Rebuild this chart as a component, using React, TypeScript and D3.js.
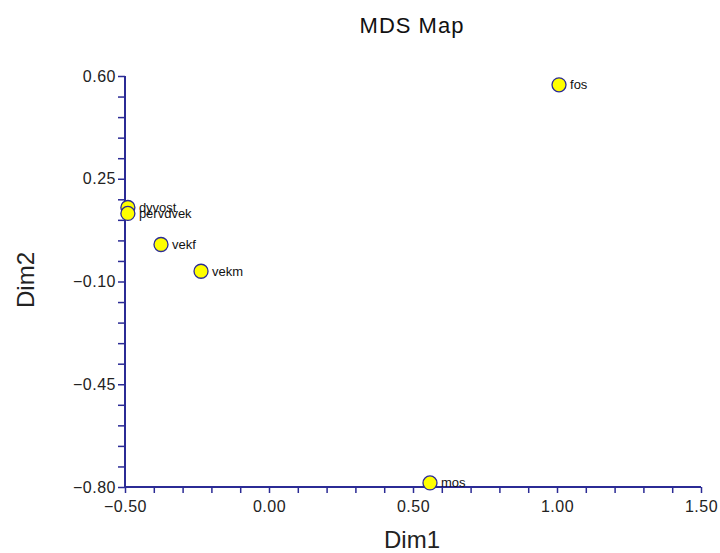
import * as d3 from 'd3';
import React, { useEffect, useRef } from 'react';

const width = 720;
const height = 553;
const margin = { top: 76, right: 19, bottom: 66, left: 125 };
const axisColor = '#2b2b95';

const labels = ['fos', 'dyvost', 'pervdvek', 'vekf', 'vekm', 'mos'];
const dim1 = [1.007, -0.49, -0.49, -0.375, -0.236, 0.559];
const dim2 = [0.57, 0.152, 0.132, 0.026, -0.065, -0.786];

const xTicks = [-0.5, 0, 0.5, 1.0, 1.5];
const yTicks = [0.6, 0.25, -0.1, -0.45, -0.8];

const App = () => {
  const xAxisRef = useRef<SVGGElement>(null);
  const yAxisRef = useRef<SVGGElement>(null);

  const xScale = d3.scaleLinear().domain([-0.5, 1.5]).range([margin.left, width - margin.right]);
  const yScale = d3.scaleLinear().domain([-0.8, 0.6]).range([height - margin.bottom, margin.top]);

  useEffect(() => {
    const xMinor = d3.range(0, 21).map(i => -0.5 + i * 0.1);
    const yMinor = d3.range(0, 21).map(i => -0.8 + i * 0.07);

    const xAxis = d3.axisBottom(xScale).tickValues(xMinor).tickSize(6)
      .tickFormat(d => (xTicks.some(t => Math.abs(t - +d) < 1e-6) ? d3.format('.2f')(+d) : ''));
    const yAxis = d3.axisLeft(yScale).tickValues(yMinor).tickSize(7)
      .tickFormat(d => (yTicks.some(t => Math.abs(t - +d) < 1e-6) ? d3.format('.2f')(+d) : ''));

    const styleAxis = (g: d3.Selection<SVGGElement, unknown, null, undefined>) => {
      g.selectAll('path').attr('stroke', axisColor).attr('stroke-width', 2);
      g.selectAll('line').attr('stroke', axisColor).attr('stroke-width', 1.5);
      g.selectAll('text').attr('fill', '#222')
        .style('font-family', 'Arial, "Liberation Sans", sans-serif')
        .style('font-size', '16px').style('letter-spacing', '0.5px');
    };

    const gx = d3.select(xAxisRef.current!);
    gx.call(xAxis as any);
    styleAxis(gx as any);
    gx.select('.domain').attr('d', `M${xScale(-0.5)},0H${xScale(1.5)}`);
    gx.selectAll('text').attr('y', 14).attr('dy', '0.71em');

    const gy = d3.select(yAxisRef.current!);
    gy.call(yAxis as any);
    styleAxis(gy as any);
    gy.select('.domain').attr('d', `M0,${yScale(0.6)}V${yScale(-0.8)}`);
    gy.selectAll('text').attr('x', -9);
  }, []);

  return (
    <svg width={width} height={height} style={{ position: 'absolute', left: 0, top: 0, background: '#fff' }}
      fontFamily='Arial, "Liberation Sans", sans-serif'>
      <text x={412} y={33} textAnchor='middle' fontSize={22} letterSpacing={1} fill='#111'>MDS Map</text>
      <text x={412} y={548} textAnchor='middle' fontSize={24} fill='#222'>Dim1</text>
      <text transform='translate(34,280) rotate(-90)' textAnchor='middle' fontSize={24} fill='#222'>Dim2</text>
      <g ref={xAxisRef} transform={`translate(0, ${height - margin.bottom})`} />
      <g ref={yAxisRef} transform={`translate(${margin.left}, 0)`} />
      {labels.map((l, i) => (
        <g key={l}>
          <circle cx={xScale(dim1[i])} cy={yScale(dim2[i])} r={7} fill='#ffff00' stroke={axisColor} strokeWidth={1.3} />
          <text x={xScale(dim1[i]) + 11} y={yScale(dim2[i]) + 4.5} fontSize={13} fill='#111'>{l}</text>
        </g>
      ))}
    </svg>
  );
};

export default App;
